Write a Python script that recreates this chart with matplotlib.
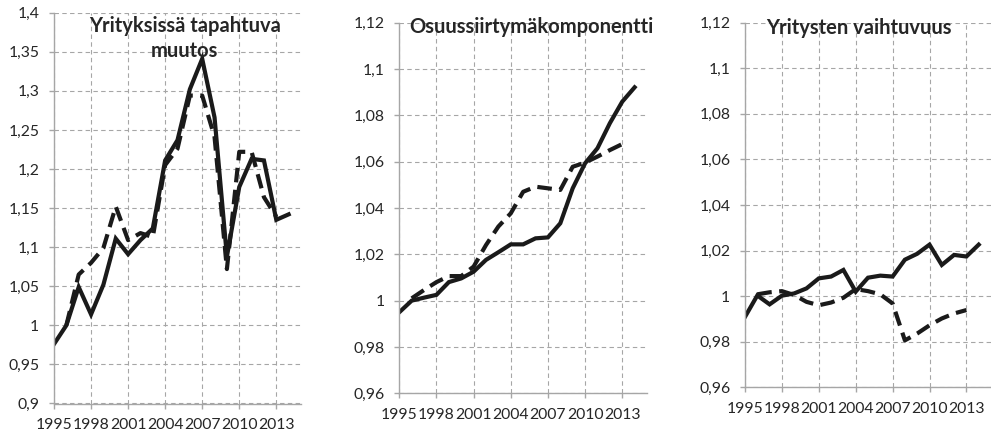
import matplotlib
matplotlib.use("Agg")
import matplotlib.pyplot as plt
import numpy as np

plt.rcParams['font.family'] = ['Lato', 'DejaVu Sans']

# Data
years_solid = list(range(1995, 2015))
years_dash = list(range(1996, 2014))
xticks = [1995, 1998, 2001, 2004, 2007, 2010, 2013]

muutos_solid = [0.976, 1.0, 1.049, 1.014, 1.052, 1.111, 1.091, 1.109, 1.124, 1.211,
                1.237, 1.302, 1.341, 1.266, 1.088, 1.177, 1.213, 1.211, 1.135, 1.142]
muutos_dash = [1.0, 1.065, 1.08, 1.099, 1.152, 1.109, 1.118, 1.113, 1.205, 1.226,
               1.294, 1.294, 1.241, 1.072, 1.222, 1.222, 1.164, 1.139]

osuus_solid = [0.995, 1.0, 1.0013, 1.0025, 1.008, 1.0096, 1.0125, 1.0176, 1.0209, 1.0243,
               1.0243, 1.0269, 1.0273, 1.0334, 1.0485, 1.0593, 1.0658, 1.0766, 1.0859, 1.0921]
osuus_dash = [1.001, 1.0046, 1.008, 1.0106, 1.0106, 1.0147, 1.024, 1.032, 1.0377, 1.047,
              1.0492, 1.0485, 1.0478, 1.0578, 1.0596, 1.0622, 1.065, 1.0676]

vaiht_solid = [0.9909, 1.0003, 0.9964, 1.0002, 1.0012, 1.0034, 1.0078, 1.0086, 1.0115, 1.002,
               1.0081, 1.009, 1.0086, 1.016, 1.0186, 1.0226, 1.0137, 1.0181, 1.0174, 1.0226]
vaiht_dash = [1.0008, 1.0017, 1.0022, 1.0005, 0.9975, 0.996, 0.9972, 0.9993, 1.0031, 1.0022,
              1.0008, 0.9968, 0.9806, 0.9836, 0.9872, 0.9902, 0.9924, 0.9939]

yticks1 = [0.9, 0.95, 1.0, 1.05, 1.1, 1.15, 1.2, 1.25, 1.3, 1.35, 1.4]
ylabels1 = ['0,9', '0,95', '1', '1,05', '1,1', '1,15', '1,2', '1,25', '1,3', '1,35', '1,4']
yticks2 = [0.96, 0.98, 1.0, 1.02, 1.04, 1.06, 1.08, 1.1, 1.12]
ylabels2 = ['0,96', '0,98', '1', '1,02', '1,04', '1,06', '1,08', '1,1', '1,12']

W, H = 991, 434
fig = plt.figure(figsize=(W / 100, H / 100), dpi=100)


def px_axes(left, top, right, bottom):
    return fig.add_axes([left / W, 1 - bottom / H, (right - left) / W, (bottom - top) / H])


def style(ax, yticks, ylabels):
    ax.set_xlim(1995, 2015)
    ax.set_ylim(yticks[0], yticks[-1])
    ax.set_xticks(xticks)
    ax.set_xticklabels([str(x) for x in xticks])
    ax.set_yticks(yticks)
    ax.set_yticklabels(ylabels)
    ax.grid(True, color='#a6a6a6', linestyle=(0, (4, 3)), linewidth=0.8)
    ax.set_axisbelow(True)
    for s in ['top', 'right']:
        ax.spines[s].set_visible(False)
    for s in ['left', 'bottom']:
        ax.spines[s].set_color('#a6a6a6')
        ax.spines[s].set_linewidth(1.0)
    ax.tick_params(axis='both', colors='#a6a6a6', labelcolor='#262626',
                   labelsize=11.3, length=3.6, width=1.0, pad=7)


def title(ax, tx, ty, txt):
    ax.text(tx, ty, txt, transform=ax.transAxes, ha='center', va='baseline',
            fontsize=14.5, fontweight='bold', color='#262626')


def draw(ax, solid, dash):
    ax.plot(years_solid, solid, color='#1a1a1a', linewidth=3.0, solid_joinstyle='miter')
    ax.plot(years_dash, dash, color='#1a1a1a', linewidth=3.0, linestyle=(0, (3.5, 1.8)))


ax1 = px_axes(54, 12.7, 301, 403.5)
draw(ax1, muutos_solid, muutos_dash)
style(ax1, yticks1, ylabels1)
title(ax1, 0.53, 0.9515, 'Yrityksissä tapahtuva')
title(ax1, 0.53, 0.886, 'muutos')

ax2 = px_axes(399.3, 22.7, 647, 393.3)
draw(ax2, osuus_solid, osuus_dash)
style(ax2, yticks2, ylabels2)
title(ax2, 0.532, 0.972, 'Osuussiirtymäkomponentti')

ax3 = px_axes(745, 22.7, 991, 387.3)
draw(ax3, vaiht_solid, vaiht_dash)
style(ax3, yticks2, ylabels2)
title(ax3, 0.462, 0.9696, 'Yritysten vaihtuvuus')

fig.savefig('out.png', dpi=100)
